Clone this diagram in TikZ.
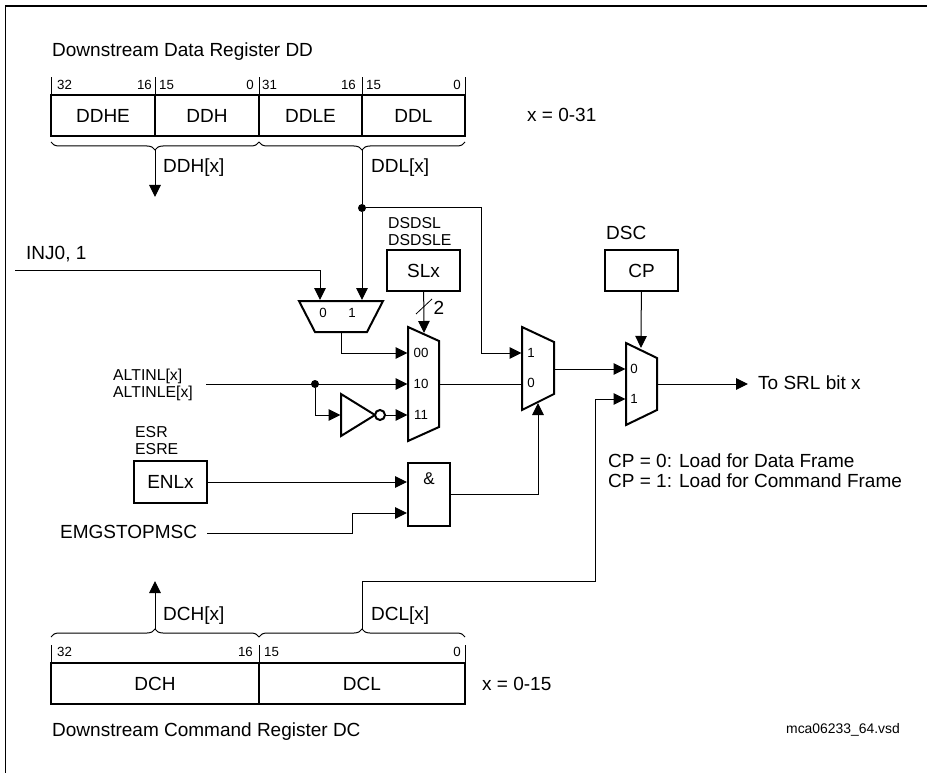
\documentclass[tikz,border=0pt]{standalone}
\usepackage{fontspec}
\setmainfont{Liberation Sans}
\usetikzlibrary{arrows.meta, decorations.pathreplacing}

\begin{document}
\begin{tikzpicture}[
    x=1pt, y=-1pt,
    regbox/.style={draw, line width=2pt, inner sep=0pt, font=\fontsize{19}{21}\selectfont, text height=13.6pt, text depth=0pt},
    tick/.style={line width=0.8pt},
    bitno/.style={font=\fontsize{13.3}{15}\selectfont, inner sep=0pt, text height=9.5pt, text depth=0pt},
    muxno/.style={font=\fontsize{13.3}{15}\selectfont, inner sep=0pt, text height=9.5pt, text depth=0pt},
    txt/.style={font=\fontsize{19}{20.5}\selectfont, inner sep=0pt, anchor=west, text height=13.6pt, text depth=0pt},
    small/.style={font=\fontsize{15.8}{16.8}\selectfont, inner sep=0pt, anchor=west, align=left, text height=11.3pt, text depth=0pt},
    wire/.style={line width=1pt},
    sig/.style={wire, -{Triangle[length=12pt, width=11.5pt]}},
    mux/.style={draw, line width=2pt, line join=miter},
    dot/.style={circle, fill, inner sep=0pt, minimum size=8pt},
    bracegroup/.style={wire, decorate, decoration={brace, amplitude=8pt}},
]
    \useasboundingbox (0,0) rectangle (927,773);

    % Outer frame
    \coordinate (fbl) at (5.5,773);
    \coordinate (ftl) at (5.5,6);
    \coordinate (ftr) at (927,6);
    \draw[line width=1.3pt] (fbl) -- (ftl) -- (ftr);

    % Data register
    \node[txt] (ddtitle) at (52,50) {Downstream Data Register DD};
    \node[regbox, minimum width=104pt, minimum height=41pt] (ddhe) at (103,115.5) {DDHE};
    \node[regbox, minimum width=104pt, minimum height=41pt] (ddh) at (207,115.5) {DDH};
    \node[regbox, minimum width=103pt, minimum height=41pt] (ddle) at (310.5,115.5) {DDLE};
    \node[regbox, minimum width=103pt, minimum height=41pt] (ddl) at (413.5,115.5) {DDL};
    \foreach \r/\x in {a/51, b/155, c/259, d/362, e/465} {
        \coordinate (dd\r) at (\x,95);
        \coordinate (dd\r top) at (\x,77);
        \draw[tick] (dd\r) -- (dd\r top);
    }
    \foreach \x/\t in {57/32, 159/15, 262/31, 366/15} {
        \node[bitno, anchor=west] (ddbit\x) at (\x,85) {\t};
    }
    \foreach \x/\t in {152/16, 254/0, 356/16, 461/0} {
        \node[bitno, anchor=east] (ddend\x) at (\x,85) {\t};
    }
    \node[txt] (xdd) at (527,115) {x = 0-31};

    % Data register braces
    \coordinate (ddba) at (51,142);
    \coordinate (ddbc) at (259,142);
    \coordinate (ddbe) at (465,142);
    \draw[bracegroup] (ddbc) -- (ddba);
    \draw[bracegroup] (ddbe) -- (ddbc);
    \coordinate (ddhtip) at (155,150);
    \coordinate (ddltip) at (362,150);
    \coordinate (ddhend) at (155,197);
    \draw[sig] (ddhtip) -- (ddhend);
    \node[txt] (ddhx) at (163,166) {DDH[x]};
    \node[txt] (ddlx) at (371,166) {DDL[x]};

    % Input selector
    \coordinate (sa) at (299,301);
    \coordinate (sb) at (383,301);
    \coordinate (sc) at (367,332);
    \coordinate (sd) at (315,332);
    \draw[mux] (sa) -- (sb) -- (sc) -- (sd) -- cycle;
    \node[muxno] (s0) at (323,313) {0};
    \node[muxno] (s1) at (352,313) {1};
    \coordinate (sin0) at (320,300);
    \coordinate (sin1) at (362,300);
    \coordinate (sout) at (341,332);

    % Four-way mux
    \coordinate (ma) at (408,327);
    \coordinate (mb) at (439,341);
    \coordinate (mc) at (439,427);
    \coordinate (md) at (408,441);
    \draw[mux] (ma) -- (mb) -- (mc) -- (md) -- cycle;
    \node[muxno] (m00) at (421,353) {00};
    \node[muxno] (m10) at (421,384) {10};
    \node[muxno] (m11) at (421,415) {11};
    \coordinate (min00) at (407.5,353);
    \coordinate (min10) at (407.5,384);
    \coordinate (min11) at (407.5,415);
    \coordinate (mout) at (439,384);
    \coordinate (msel) at (424,333);

    % Second mux
    \coordinate (na) at (522,327);
    \coordinate (nb) at (554,342);
    \coordinate (nc) at (554,394);
    \coordinate (nd) at (522,410);
    \draw[mux] (na) -- (nb) -- (nc) -- (nd) -- cycle;
    \node[muxno] (n1) at (531,353) {1};
    \node[muxno] (n0) at (531,383) {0};
    \coordinate (nin1) at (521.5,353);
    \coordinate (nin0) at (522,384);
    \coordinate (nout) at (554,369);
    \coordinate (nsel) at (538,403);

    % Output mux
    \coordinate (oa) at (626,343);
    \coordinate (ob) at (657,358);
    \coordinate (oc) at (657,410);
    \coordinate (od) at (626,425);
    \draw[mux] (oa) -- (ob) -- (oc) -- (od) -- cycle;
    \node[muxno] (o0) at (634,369) {0};
    \node[muxno] (o1) at (634,399) {1};
    \coordinate (oin0) at (625.5,369);
    \coordinate (oin1) at (625.5,399);
    \coordinate (oout) at (657,384);
    \coordinate (osel) at (641,348);

    % Control boxes
    \node[regbox, minimum width=73pt, minimum height=41pt] (slx) at (423.5,270.5) {SLx};
    \node[regbox, minimum width=73pt, minimum height=41pt] (cp) at (641.5,270.5) {CP};
    \node[regbox, minimum width=73pt, minimum height=42pt] (enlx) at (170.5,482) {ENLx};
    \node[small] (dsdsl) at (388,239.5) {DSDSL\\DSDSLE};
    \node[txt] (dsc) at (606,233) {DSC};
    \node[small] (esr) at (135,449) {ESR\\ESRE};

    % AND gate
    \node[regbox, minimum width=42pt, minimum height=63pt] (andg) at (429,494.5) {};
    \node[font=\fontsize{17}{18}\selectfont, inner sep=0pt, text height=12.2pt, text depth=0pt] (amp) at (429,478) {\&};

    % Inverter
    \coordinate (ia) at (341,394);
    \coordinate (ib) at (341,436);
    \coordinate (ic) at (375,415);
    \draw[mux] (ia) -- (ic) -- (ib) -- cycle;
    \node[circle, draw, fill=white, line width=2pt, inner sep=0pt, minimum size=10pt] (bub) at (380,415) {};

    % Input labels
    \node[txt] (inj) at (26,253) {INJ0, 1};
    \node[small] (altin) at (113,392) {ALTINL[x]\\ALTINLE[x]};
    \node[txt] (emg) at (60,532) {EMGSTOPMSC};
    \coordinate (injstart) at (15,270);
    \coordinate (altstart) at (206,384);
    \coordinate (emgstart) at (207,533);

    % Connections
    \node[dot] (jtop) at (362,208) {};
    \node[dot] (jalt) at (315,384) {};
    \draw[wire] (ddltip) -- (jtop);
    \draw[sig] (jtop) -- (sin1);
    \draw[sig] (injstart) -| (sin0);
    \draw[sig] (jtop) -- (481,208) |- (nin1);
    \draw[sig] (sout) |- (min00);
    \draw[sig] (altstart) -- (min10);
    \draw[sig] (jalt) |- (340.5,415);
    \draw[sig] (bub) -- (min11);
    \draw[sig] (slx) -- (msel);
    \coordinate (slasha) at (416,314);
    \coordinate (slashb) at (432,299);
    \draw[tick] (slasha) -- (slashb);
    \node[font=\fontsize{19}{20}\selectfont, inner sep=0pt, text height=13.6pt, text depth=0pt] (two) at (439,308) {2};
    \draw[wire] (mout) -- (nin0);
    \draw[sig] (nout) -- (oin0);
    \draw[sig] (cp) -- (osel);
    \coordinate (srlend) at (748,384);
    \draw[sig] (oout) -- (srlend);
    \node[txt] (srl) at (758,383) {To SRL bit x};
    \draw[sig] (enlx) -- (andg.west |- enlx);
    \draw[sig] (emgstart) -- (352,533) |- (andg.west |- 0,513);
    \draw[sig] (andg.east |- 0,494) -| (nsel);
    \node[txt, align=left] (cpnote) at (608,481) {CP = 0: Load for Data Frame\\CP = 1: Load for Command Frame};

    % Command register
    \node[regbox, minimum width=208pt, minimum height=41pt] (dch) at (155,683.5) {DCH};
    \node[regbox, minimum width=206pt, minimum height=41pt] (dcl) at (362,683.5) {DCL};
    \foreach \r/\x in {a/51, c/259, e/465} {
        \coordinate (dc\r) at (\x,663);
        \coordinate (dc\r top) at (\x,645);
        \draw[tick] (dc\r) -- (dc\r top);
    }
    \node[bitno, anchor=west] (dc32) at (57,652) {32};
    \node[bitno, anchor=east] (dc16) at (253,652) {16};
    \node[bitno, anchor=west] (dc15) at (264,652) {15};
    \node[bitno, anchor=east] (dc0) at (461,652) {0};
    \node[txt] (xdc) at (482,684) {x = 0-15};
    \node[txt] (dctitle) at (52,730) {Downstream Command Register DC};
    \node[font=\fontsize{13.9}{15}\selectfont, inner sep=0pt, anchor=east] (vsd) at (900,730) {mca06233\_64.vsd};

    % Command register braces
    \coordinate (dcba) at (51,637);
    \coordinate (dcbc) at (259,637);
    \coordinate (dcbe) at (465,637);
    \draw[bracegroup] (dcba) -- (dcbc);
    \draw[bracegroup] (dcbc) -- (dcbe);
    \coordinate (dchtip) at (155,629);
    \coordinate (dcltip) at (362,629);
    \coordinate (dchend) at (155,581);
    \draw[sig] (dchtip) -- (dchend);
    \node[txt] (dchx) at (163,614) {DCH[x]};
    \node[txt] (dclx) at (371,614) {DCL[x]};
    \coordinate (dcrise) at (595,581);
    \draw[sig] (dcltip) |- (dcrise) |- (oin1);
\end{tikzpicture}
\end{document}
